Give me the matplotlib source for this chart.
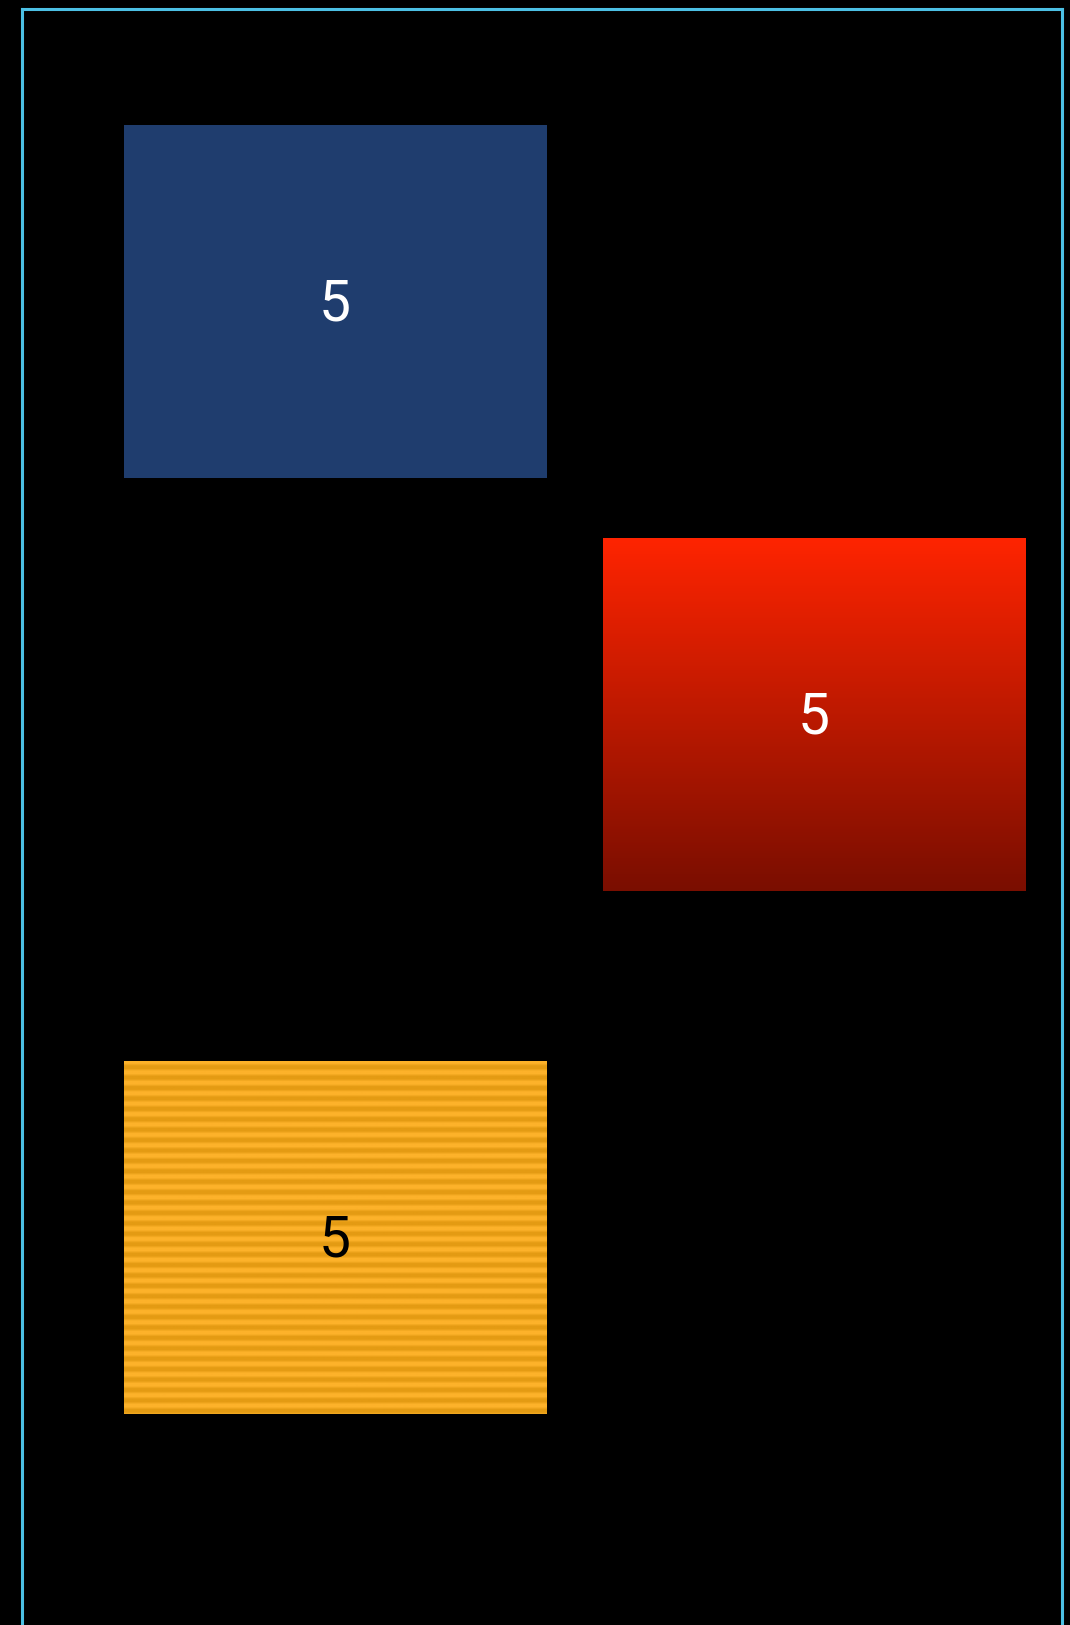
import numpy as np
import matplotlib
matplotlib.use("Agg")
import matplotlib.pyplot as plt
from matplotlib.colors import to_rgb

# data: one mark per row, column index, vertical centre, value
col_idx = [0, 1, 0]
row_pos = [0.83, 2.0, 3.48]
values = [5, 5, 5]
fills = ["solid", "gradient", "stripes"]

bar_w = 0.883
bar_h = 1.0

blue = "#1f3d6e"
red_top = "#ff2400"
red_bottom = "#7a0e00"
orange_light = "#fdb22a"
orange_dark = "#e49b13"
frame_col = "#4cc0e4"

fig = plt.figure(figsize=(10.7, 16.25), dpi=100, facecolor="black")
ax = fig.add_axes([21.5 / 1070, 0.0, (1061.5 - 21.5) / 1070, 1 - 8.5 / 1625])
ax.set_facecolor("black")

bars = ax.bar(col_idx, bar_h, width=bar_w, bottom=[y - bar_h / 2 for y in row_pos],
              color=blue, linewidth=0, zorder=2)

xlim = (-0.6545, 1.5165)
ylim = (4.579, 0)

for b, kind in zip(bars, fills):
    x0, y0 = b.get_x(), b.get_y()
    ext = [x0, x0 + b.get_width(), y0 + b.get_height(), y0]
    if kind == "gradient":
        t = np.linspace(0, 1, 256)[:, None]
        top = np.array(to_rgb(red_top))
        bot = np.array(to_rgb(red_bottom))
        img = top[None, None, :] * (1 - t[..., None]) + bot[None, None, :] * t[..., None]
        im = ax.imshow(img, extent=ext, origin="upper", aspect="auto", zorder=3,
                       interpolation="bilinear")
        im.set_clip_path(b)
    elif kind == "stripes":
        lt = np.array(to_rgb(orange_light))
        dk = np.array(to_rgb(orange_dark))
        md = (lt + dk) / 2
        tile = np.array([lt, lt, lt, md, dk, dk, dk, md])
        n = 34
        img = np.tile(tile, (n, 1))[:, None, :]
        im = ax.imshow(img, extent=ext, origin="upper", aspect="auto", zorder=3,
                       interpolation="bilinear")
        im.set_clip_path(b)

for x, y, v, kind in zip(col_idx, row_pos, values, fills):
    ax.text(x, y + 0.01, str(v), ha="center", va="center", fontsize=41,
            family=["Roboto", "DejaVu Sans"], fontstyle="normal", fontweight="normal",
            color="black" if kind == "stripes" else "white", zorder=4)

ax.set_xlim(*xlim)
ax.set_ylim(*ylim)
ax.set_xticks([])
ax.set_yticks([])
for s in ["left", "top", "right"]:
    ax.spines[s].set_color(frame_col)
    ax.spines[s].set_linewidth(2.2)
ax.spines["bottom"].set_visible(False)

fig.savefig("out.png", dpi=100, facecolor="black")
